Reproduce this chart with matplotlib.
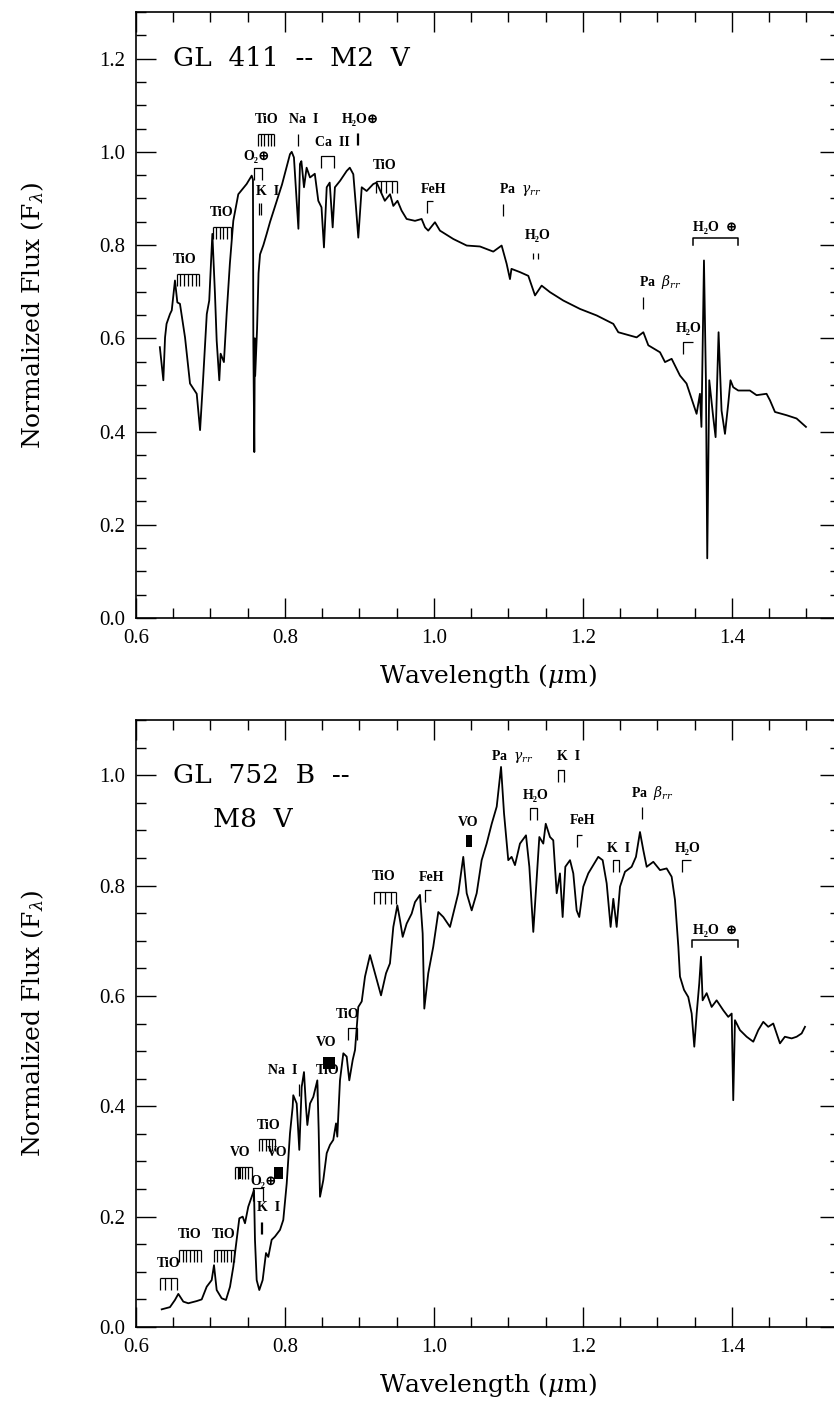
import numpy as np
import matplotlib
matplotlib.use("Agg")
import matplotlib.pyplot as plt
from matplotlib.ticker import MultipleLocator, FormatStrFormatter

# ---------------- data: GL 411 (M2 V) ----------------
gl411_wave = [0.632, 0.6367, 0.639, 0.641, 0.6456, 0.648, 0.6523, 0.6555, 0.659, 0.6658,
              0.6725, 0.677, 0.6815, 0.686, 0.690, 0.695, 0.6983, 0.7025, 0.706, 0.7083,
              0.7118, 0.7136, 0.718, 0.7217, 0.726, 0.7306, 0.7373, 0.7485, 0.7553, 0.757,
              0.7575, 0.7588, 0.7595, 0.7600, 0.7625, 0.7645, 0.7665, 0.771, 0.7754, 0.780,
              0.789, 0.796, 0.802, 0.8067, 0.809, 0.812, 0.8157, 0.818, 0.8201, 0.822,
              0.8255, 0.829, 0.8336, 0.840, 0.8447, 0.849, 0.8523, 0.856, 0.860, 0.864,
              0.867, 0.874, 0.8828, 0.887, 0.8917, 0.8953, 0.8984, 0.903, 0.9096, 0.9185,
              0.923, 0.934, 0.941, 0.9454, 0.951, 0.9565, 0.9633, 0.9745, 0.9834, 0.988,
              0.9923, 1.0013, 1.008, 1.026, 1.0439, 1.0617, 1.0796, 1.0908, 1.0975, 1.102,
              1.104, 1.1154, 1.1266, 1.1356, 1.1445, 1.1557, 1.1736, 1.196, 1.2184, 1.2407,
              1.2474, 1.272, 1.281, 1.2877, 1.3034, 1.3101, 1.319, 1.3302, 1.339, 1.348,
              1.3525, 1.357, 1.359, 1.3624, 1.365, 1.3668, 1.3695, 1.3748, 1.378, 1.382,
              1.386, 1.3906, 1.395, 1.398, 1.4017, 1.4084, 1.424, 1.433, 1.4464, 1.451,
              1.4577, 1.4733, 1.4867, 1.4993]
gl411_flux = [0.581, 0.51, 0.602, 0.631, 0.652, 0.66, 0.724, 0.677, 0.674, 0.602,
              0.503, 0.492, 0.481, 0.403, 0.51, 0.652, 0.681, 0.824, 0.695, 0.595,
              0.51, 0.567, 0.549, 0.653, 0.76, 0.852, 0.909, 0.931, 0.949, 0.94,
              0.59, 0.356, 0.60, 0.52, 0.62, 0.74, 0.78, 0.80, 0.824, 0.85,
              0.895, 0.93, 0.966, 0.995, 1.0, 0.988, 0.895, 0.835, 0.974, 0.98,
              0.924, 0.966, 0.945, 0.953, 0.895, 0.881, 0.795, 0.924, 0.934, 0.838,
              0.924, 0.938, 0.959, 0.966, 0.952, 0.881, 0.816, 0.924, 0.916, 0.931,
              0.934, 0.895, 0.909, 0.884, 0.895, 0.874, 0.856, 0.852, 0.856, 0.838,
              0.831, 0.849, 0.831, 0.813, 0.799, 0.797, 0.786, 0.799, 0.76, 0.727,
              0.749, 0.742, 0.734, 0.692, 0.713, 0.699, 0.681, 0.663, 0.649, 0.631,
              0.613, 0.602, 0.613, 0.585, 0.57, 0.549, 0.556, 0.52, 0.503, 0.46,
              0.438, 0.481, 0.41, 0.767, 0.51, 0.128, 0.51, 0.431, 0.388, 0.613,
              0.445, 0.395, 0.46, 0.51, 0.495, 0.488, 0.488, 0.478, 0.481, 0.467,
              0.442, 0.435, 0.428, 0.41]

# ---------------- data: GL 752 B (M8 V) ----------------
gl752b_wave = [0.6345, 0.6456, 0.6523, 0.6568, 0.6635, 0.6702, 0.6815, 0.6882, 0.6949, 0.7016,
               0.7047, 0.7083, 0.715, 0.7208, 0.7262, 0.7306, 0.7351, 0.7387, 0.7432, 0.7463,
               0.7507, 0.7553, 0.7584, 0.7597, 0.762, 0.7655, 0.77, 0.7745, 0.7776, 0.7821,
               0.7866, 0.7933, 0.7977, 0.8023, 0.8067, 0.8103, 0.8111, 0.8157, 0.8192, 0.8224,
               0.8255, 0.8282, 0.83, 0.8336, 0.838, 0.8434, 0.8452, 0.847, 0.8514, 0.856,
               0.8604, 0.8648, 0.8685, 0.8702, 0.8738, 0.8783, 0.8828, 0.8863, 0.8909, 0.894,
               0.8984, 0.903, 0.9074, 0.9141, 0.9208, 0.9289, 0.9356, 0.9409, 0.9454, 0.9508,
               0.9544, 0.958, 0.9633, 0.97, 0.9745, 0.9812, 0.9848, 0.987, 0.9923, 0.999,
               1.0058, 1.0125, 1.0215, 1.0326, 1.0393, 1.0439, 1.0506, 1.0573, 1.064, 1.0707,
               1.0775, 1.0842, 1.0900, 1.094, 1.0997, 1.1042, 1.1087, 1.1154, 1.1235, 1.128,
               1.1333, 1.1378, 1.1414, 1.1467, 1.15, 1.1557, 1.1601, 1.1647, 1.1691, 1.1727,
               1.1763, 1.1826, 1.187, 1.1915, 1.195, 1.2004, 1.2071, 1.2138, 1.2205, 1.2264,
               1.2318, 1.2371, 1.2407, 1.2452, 1.2497, 1.2564, 1.2653, 1.2711, 1.2765, 1.281,
               1.2855, 1.2944, 1.3034, 1.3123, 1.319, 1.3235, 1.328, 1.3302, 1.3356, 1.3413,
               1.3459, 1.3494, 1.3526, 1.3561, 1.3584, 1.3606, 1.366, 1.3727, 1.3794, 1.3883,
               1.395, 1.3996, 1.4017, 1.404, 1.4107, 1.4197, 1.4286, 1.4353, 1.442, 1.4487,
               1.4554, 1.4644, 1.471, 1.4801, 1.4868, 1.4935, 1.498]
gl752b_flux = [0.032, 0.036, 0.049, 0.06, 0.046, 0.043, 0.047, 0.05, 0.073, 0.085,
               0.112, 0.067, 0.052, 0.049, 0.073, 0.109, 0.158, 0.197, 0.2, 0.188,
               0.218, 0.236, 0.248, 0.158, 0.085, 0.067, 0.085, 0.134, 0.127, 0.158,
               0.164, 0.176, 0.194, 0.26, 0.351, 0.399, 0.42, 0.405, 0.321, 0.435,
               0.462, 0.399, 0.366, 0.405, 0.417, 0.447, 0.357, 0.236, 0.266, 0.315,
               0.33, 0.339, 0.369, 0.345, 0.447, 0.496, 0.49, 0.447, 0.484, 0.502,
               0.58, 0.59, 0.635, 0.674, 0.641, 0.601, 0.641, 0.659, 0.725, 0.764,
               0.737, 0.707, 0.731, 0.749, 0.77, 0.783, 0.713, 0.577, 0.641, 0.689,
               0.752, 0.743, 0.725, 0.786, 0.852, 0.786, 0.755, 0.786, 0.846, 0.876,
               0.912, 0.943, 1.015, 0.931, 0.846, 0.852, 0.837, 0.876, 0.891, 0.834,
               0.716, 0.81, 0.888, 0.876, 0.912, 0.888, 0.882, 0.786, 0.822, 0.743,
               0.834, 0.846, 0.822, 0.755, 0.743, 0.798, 0.822, 0.837, 0.852, 0.846,
               0.804, 0.725, 0.776, 0.725, 0.798, 0.825, 0.834, 0.852, 0.897, 0.864,
               0.834, 0.843, 0.828, 0.831, 0.816, 0.774, 0.689, 0.635, 0.611, 0.598,
               0.568, 0.508, 0.568, 0.623, 0.671, 0.592, 0.605, 0.58, 0.592, 0.574,
               0.562, 0.568, 0.411, 0.556, 0.538, 0.526, 0.517, 0.538, 0.553, 0.544,
               0.55, 0.514, 0.526, 0.523, 0.526, 0.532, 0.544]

# ---------------- feature labels ----------------
top_labels = ["TiO", "TiO", "TiO", "O₂⊕", "K  I", "Na  I", "Ca  II", "H₂O⊕", "TiO", "FeH",
              r"Pa  $\gamma_{rr}$", "H₂O", r"Pa  $\beta_{rr}$", "H₂O", "H₂O  ⊕"]
top_label_x = [0.6658, 0.715, 0.7754, 0.762, 0.7763, 0.8255, 0.8635, 0.9007, 0.9337, 0.9993,
               1.1154, 1.1387, 1.3034, 1.3414, 1.3781]
top_label_y = [0.769, 0.870, 1.070, 0.991, 0.916, 1.070, 1.020, 1.070, 0.970, 0.920,
               0.920, 0.820, 0.720, 0.620, 0.838]
top_mark_kind = ["comb", "comb", "comb", "bracket", "dtick", "tick", "bracket", "dtick", "comb", "corner",
                 "tick", "dots", "tick", "corner", "span"]
top_mark_x0 = [0.6546, 0.703, 0.764, 0.758, 0.7665, 0.818, 0.848, 0.897, 0.922, 0.991,
               1.0922, 1.133, 1.281, 1.3347, 1.348]
top_mark_x1 = [0.685, 0.727, 0.785, 0.769, 0.7665, 0.818, 0.866, 0.897, 0.950, 0.999,
               1.0922, 1.140, 1.281, 1.348, 1.4085]
top_mark_y = [0.739, 0.838, 1.038, 0.966, 0.891, 1.038, 0.991, 1.041, 0.938, 0.895,
              0.888, 0.784, 0.688, 0.592, 0.815]
top_mark_n = [7, 6, 6, 2, 2, 1, 3, 2, 5, 1, 1, 2, 1, 1, 2]

bot_labels = ["TiO", "TiO", "TiO", "VO", "TiO", "VO", "O₂⊕", "K  I", "Na  I", "VO",
              "TiO", "TiO", "TiO", "FeH", "VO", r"Pa  $\gamma_{rr}$", "K  I", "H₂O", "FeH", "K  I",
              r"Pa  $\beta_{rr}$", "H₂O", "H₂O  ⊕"]
bot_label_x = [0.6434, 0.6725, 0.7172, 0.7396, 0.7776, 0.7888, 0.7718, 0.7781, 0.7964, 0.8546,
               0.8568, 0.8841, 0.9329, 0.9969, 1.046, 1.1052, 1.1812, 1.1365, 1.1996, 1.2483,
               1.293, 1.340, 1.378]
bot_label_y = [0.115, 0.167, 0.167, 0.316, 0.366, 0.316, 0.264, 0.217, 0.464, 0.516,
               0.464, 0.567, 0.816, 0.815, 0.915, 1.033, 1.034, 0.964, 0.917, 0.867,
               0.967, 0.867, 0.719]
bot_mark_kind = ["comb", "comb", "comb", "vocomb", "comb", "block", "bracket", "dtick", "tick", "block",
                 "tick", "bracket", "comb", "corner", "block", "none", "bracket", "bracket", "corner", "bracket",
                 "tick", "corner", "span"]
bot_mark_x0 = [0.632, 0.658, 0.7047, 0.733, 0.7655, 0.785, 0.7575, 0.7687, 0.8192, 0.8506,
               0.8434, 0.885, 0.9195, 0.988, 1.043, 1.0908, 1.167, 1.129, 1.1915, 1.2407,
               1.2788, 1.3325, 1.347]
bot_mark_x1 = [0.6546, 0.687, 0.7315, 0.7553, 0.7866, 0.797, 0.770, 0.7687, 0.8192, 0.867,
               0.8434, 0.896, 0.949, 0.996, 1.0506, 1.0908, 1.175, 1.1387, 1.199, 1.2487,
               1.2788, 1.345, 1.4085]
bot_mark_y = [0.088, 0.139, 0.139, 0.290, 0.340, 0.290, 0.251, 0.191, 0.441, 0.490,
              0.441, 0.541, 0.789, 0.792, 0.891, 1.012, 1.010, 0.941, 0.891, 0.846,
              0.943, 0.846, 0.701]
bot_mark_n = [4, 7, 7, 6, 6, 1, 2, 2, 1, 1, 1, 2, 5, 1, 1, 1, 2, 2, 1, 2, 1, 1, 2]

titles_line1 = ["GL  411  --  M2  V", "GL  752  B  --"]
titles_line2 = ["", "M8  V"]
title_x = [0.65, 0.65]
title_y = [1.20, 1.00]
title2_x = [0.703, 0.703]
title2_y = [1.20, 0.92]

# ---------------- styling ----------------
SERIF_TICK = ['Liberation Serif', 'DejaVu Serif']
SERIF_LAB = ['DejaVu Serif']
ANN_FONT = ['Liberation Serif', 'DejaVu Serif']
plt.rcParams['mathtext.fontset'] = 'custom'
plt.rcParams['mathtext.rm'] = 'DejaVu Serif'
plt.rcParams['mathtext.it'] = 'DejaVu Serif:italic'
plt.rcParams['mathtext.bf'] = 'DejaVu Serif:bold'

W, H = 834, 1402
fig = plt.figure(figsize=(W / 100, H / 100), dpi=100)
ax1 = fig.add_axes([136 / W, 1 - 618 / H, 704 / W, 606 / H])
ax2 = fig.add_axes([136 / W, 1 - 1327 / H, 704 / W, 607 / H])


def draw_mark(ax, kind, x0, x1, y, h, n):
    kw = dict(color='black', lw=0.9, solid_capstyle='butt')
    if kind == 'none':
        return
    if kind in ('comb', 'vocomb'):
        ax.plot([x0, x1], [y, y], **kw)
        for xi in np.linspace(x0, x1, n):
            ax.plot([xi, xi], [y, y - h], **kw)
        if kind == 'vocomb':
            xm = x0 + (x1 - x0) * 0.35
            ax.fill_between([x0 + (x1 - x0) * 0.2, xm], y - h, y, color='black', lw=0)
    elif kind == 'bracket':
        ax.plot([x0, x0, x1, x1], [y - h, y, y, y - h], **kw)
    elif kind == 'span':
        ax.plot([x0, x0, x1, x1], [y - 0.6 * h, y, y, y - 0.6 * h], color='black', lw=1.1)
    elif kind == 'corner':
        ax.plot([x0, x0, x1], [y - h, y, y], **kw)
    elif kind == 'tick':
        ax.plot([x0, x0], [y - h, y], **kw)
    elif kind == 'dtick':
        ax.plot([x0 - 0.001, x0 - 0.001], [y - h, y], **kw)
        ax.plot([x0 + 0.001, x0 + 0.001], [y - h, y], **kw)
    elif kind == 'dots':
        ax.plot([x0, x0], [y - 0.5 * h, y], **kw)
        ax.plot([x1, x1], [y - 0.5 * h, y], **kw)
    elif kind == 'block':
        ax.fill_between([x0, x1], y - h, y, color='black', lw=0)


panels = [
    (ax1, gl411_wave, gl411_flux, 1.3, top_labels, top_label_x, top_label_y,
     top_mark_kind, top_mark_x0, top_mark_x1, top_mark_y, top_mark_n),
    (ax2, gl752b_wave, gl752b_flux, 1.1, bot_labels, bot_label_x, bot_label_y,
     bot_mark_kind, bot_mark_x0, bot_mark_x1, bot_mark_y, bot_mark_n),
]

for i, (ax, wv, fl, ytop, labs, lx, ly, mk, mx0, mx1, my, mn) in enumerate(panels):
    ax.plot(wv, fl, color='black', lw=1.3)
    ax.set_xlim(0.6, 1.545)
    ax.set_ylim(0.0, ytop)
    ax.xaxis.set_major_locator(MultipleLocator(0.2))
    ax.xaxis.set_minor_locator(MultipleLocator(0.05))
    ax.yaxis.set_major_locator(MultipleLocator(0.2))
    ax.yaxis.set_minor_locator(MultipleLocator(0.05))
    ax.xaxis.set_major_formatter(FormatStrFormatter('%.1f'))
    ax.yaxis.set_major_formatter(FormatStrFormatter('%.1f'))
    ax.tick_params(which='both', direction='in', top=True, right=True,
                   labeltop=False, labelright=False, width=1.0, color='black')
    ax.tick_params(which='major', length=14.5, pad=8)
    ax.tick_params(which='minor', length=7.2)
    for lab in ax.get_xticklabels() + ax.get_yticklabels():
        lab.set_family(SERIF_TICK)
        lab.set_fontsize(15)
    for sp in ax.spines.values():
        sp.set_linewidth(1.2)
    ax.set_xlabel(r"Wavelength ($\mu$m)", family=SERIF_LAB, fontsize=18, labelpad=10)
    ax.set_ylabel(r"Normalized Flux (F$_\lambda$)", family=SERIF_LAB, fontsize=18, labelpad=38)

    h = 12.0 / 606.0 * ytop
    for t, x, y in zip(labs, lx, ly):
        ax.text(x, y, t, ha='center', va='center', family=ANN_FONT, fontsize=10,
                fontweight='bold')
    for k, a, b, y, n in zip(mk, mx0, mx1, my, mn):
        draw_mark(ax, k, a, b, y, h, n)

    ax.text(title_x[i], title_y[i], titles_line1[i], ha='left', va='center',
            family=SERIF_LAB, fontsize=19)
    if titles_line2[i]:
        ax.text(title2_x[i], title2_y[i], titles_line2[i], ha='left', va='center',
                family=SERIF_LAB, fontsize=19)

fig.savefig("out.png", dpi=100)
